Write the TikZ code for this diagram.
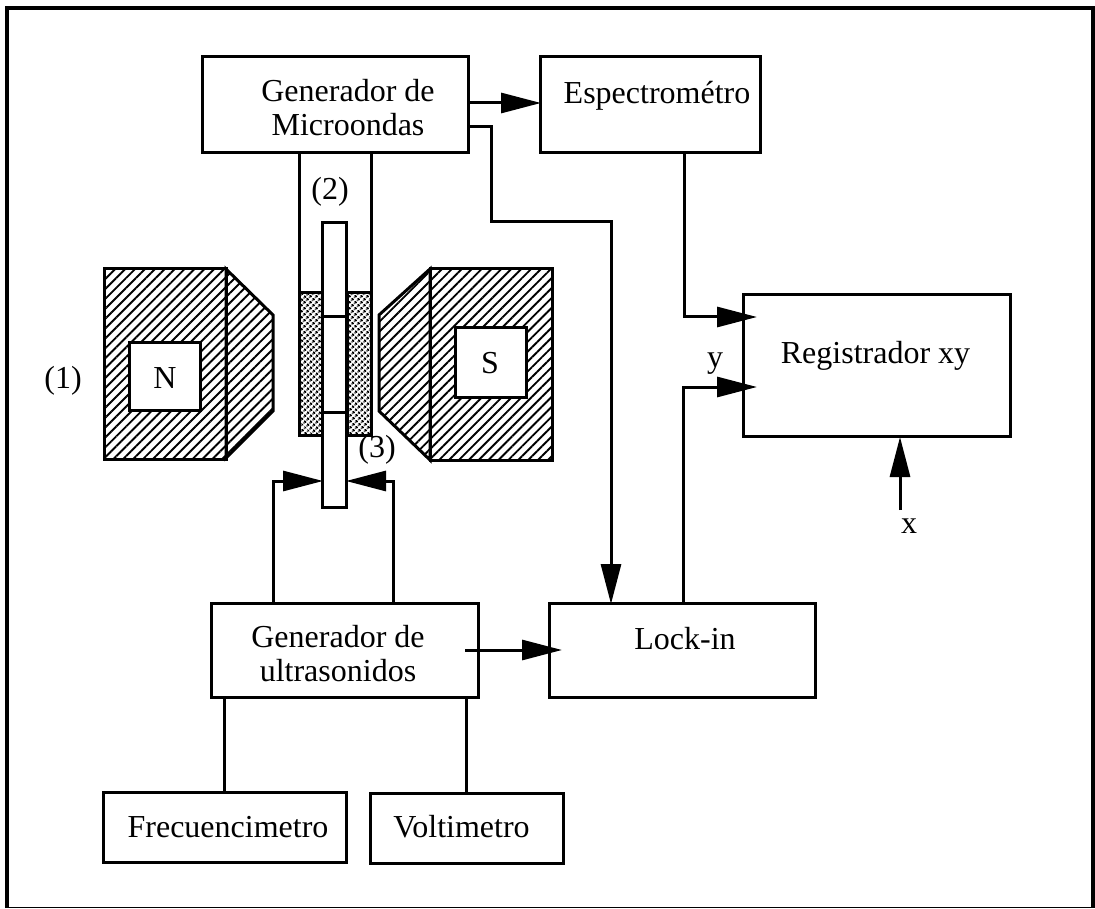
\documentclass[tikz,border=0pt]{standalone}
\usepackage{fontspec}
\setmainfont{Liberation Serif}
\usetikzlibrary{arrows.meta,patterns.meta}
\tikzset{
  lab/.style={font=\fontsize{32}{34}\selectfont,align=center,inner sep=0pt,outer sep=0pt},
  boxnode/.style={draw=black,line width=3pt,fill=white,inner sep=0pt,outer sep=0pt,line join=miter},
  wire/.style={draw=black,line width=3pt,line join=miter},
  thinwire/.style={draw=black,line width=3pt},
  arrowwire/.style={wire,-{Triangle[length=40pt,width=20pt]}},
  hatchfill/.style={pattern={Lines[angle=45,distance=7pt,line width=1.9pt]},pattern color=black},
  dotfill/.style={pattern={Dots[angle=45,distance=4pt,radius=1.5pt]},pattern color=black},
  part/.style={draw=black,line width=3pt,line join=miter},
}
\begin{document}
\begin{tikzpicture}[x=1pt,y=-1pt]
\useasboundingbox (0,0) rectangle (1095,909);
% frame
\draw[draw=black,line width=3.6pt] (7,908) -- (7,8) -- (1093,8) -- (1093,908);
\draw[draw=black,line width=1.8pt] (7,907.5) -- (1093,907.5);
% named connector ends
\coordinate (wgL) at (299,153);
\coordinate (wgR) at (371,153);
\coordinate (wgLb) at (299,293);
\coordinate (wgRb) at (371,293);
\coordinate (microA) at (469,103);
\coordinate (espA) at (541,103);
\coordinate (microB) at (469,127);
\coordinate (lockA) at (611,604);
\coordinate (espOut) at (684,153);
\coordinate (regA) at (757,317);
\coordinate (lockOut) at (683,603);
\coordinate (regB) at (757,387);
\coordinate (xTail) at (900,510);
\coordinate (xTip) at (900,437);
\coordinate (bend) at (491,222);
\coordinate (usA) at (273,603);
\coordinate (usB) at (393,603);
\coordinate (stackL) at (323,481);
\coordinate (stackR) at (346,481);
\coordinate (usOut) at (465,650);
\coordinate (lockIn) at (562,650);
\coordinate (usC) at (224,697);
\coordinate (frecIn) at (224,793);
\coordinate (usD) at (466,697);
\coordinate (voltIn) at (466,793);
% magnets
\draw[part,hatchfill] (226,269) -- (273,315) -- (273,411) -- (226,458) -- cycle;
\draw[part,hatchfill] (104,269) rectangle (226,459);
\node[boxnode,minimum width=71pt,minimum height=68pt] (nwin) at (164.5,376) {};
\node[lab] (nlab) at (165,378) {N};
\draw[part,hatchfill] (430,269) -- (379,315) -- (379,411) -- (430,460) -- cycle;
\draw[part,hatchfill] (430,269) rectangle (552,460);
\node[boxnode,minimum width=71pt,minimum height=69pt] (swin) at (490.5,362.5) {};
\node[lab] (slab) at (490,363) {S};
% waveguide
\draw[thinwire] (wgL) -- (wgLb);
\draw[thinwire] (wgR) -- (wgRb);
\draw[part,dotfill] (299,293) rectangle (322,435);
\draw[part,dotfill] (347,293) rectangle (371,435);
% sample stack
\node[boxnode,minimum width=24pt,minimum height=284pt] (stack) at (334.5,365) {};
\draw[draw=black,line width=3pt] (stack.west |- 0,317) -- (stack.east |- 0,317);
\draw[draw=black,line width=3pt] (stack.west |- 0,412) -- (stack.east |- 0,412);
% boxes
\node[boxnode,minimum width=266pt,minimum height=96pt] (micro) at (335,104.5) {};
\node[boxnode,minimum width=220pt,minimum height=96pt] (esp) at (650,104.5) {};
\node[boxnode,minimum width=267pt,minimum height=141pt] (reg) at (876.5,365.5) {};
\node[boxnode,minimum width=266pt,minimum height=94pt] (lock) at (682,650) {};
\node[boxnode,minimum width=267pt,minimum height=94pt] (us) at (344.5,650) {};
\node[boxnode,minimum width=243pt,minimum height=70pt] (frec) at (225,827) {};
\node[boxnode,minimum width=193pt,minimum height=70pt] (volt) at (466.5,828) {};
% connectors
\draw[arrowwire] (microA) -- (espA);
\draw[arrowwire] (microB) -| (bend) -| (lockA);
\draw[arrowwire] (espOut) |- (regA);
\draw[arrowwire] (lockOut) |- (regB);
\draw[arrowwire] (xTail) -- (xTip);
\draw[arrowwire] (usA) |- (stackL);
\draw[arrowwire] (usB) |- (stackR);
\draw[arrowwire] (usOut) -- (lockIn);
\draw[thinwire] (usC) -- (frecIn);
\draw[thinwire] (usD) -- (voltIn);
% labels
\node[lab] (t1) at (348,108) {Generador de\\Microondas};
\node[lab] (t2) at (657,95.5) {Espectrométro};
\node[lab] (t3) at (875.5,355.5) {Registrador xy};
\node[lab] (t4) at (685,638.5) {Lock-in};
\node[lab] (t5) at (338,654) {Generador de\\ultrasonidos};
\node[lab] (t6) at (228,827) {Frecuencimetro};
\node[lab] (t7) at (461.5,827) {Voltimetro};
\node[lab] (t8) at (330,192) {(2)};
\node[lab] (t9) at (63,381) {(1)};
\node[lab] (t10) at (377,450) {(3)};
\node[lab] (t11) at (715,364) {y};
\node[lab] (t12) at (909,526) {x};
\end{tikzpicture}
\end{document}
